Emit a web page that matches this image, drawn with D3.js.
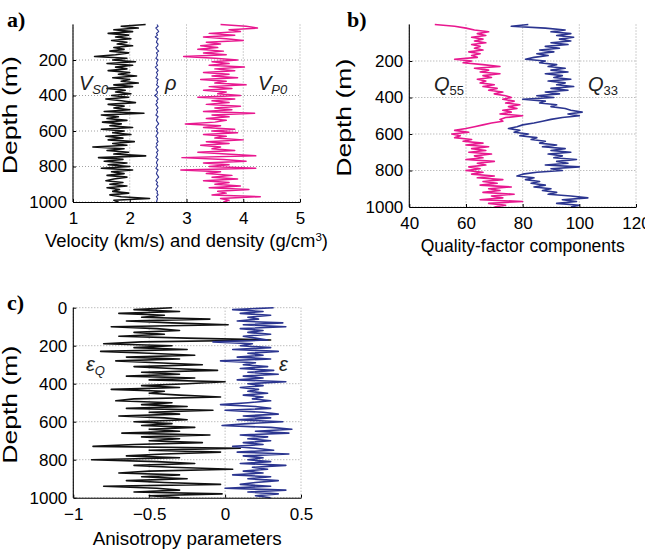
<!DOCTYPE html>
<html>
<head>
<meta charset="utf-8">
<script src="https://cdn.jsdelivr.net/npm/d3@7"></script>
<style>
  body { margin: 0; background: #fff; }
  text { font-family: "Liberation Sans", Arial, Helvetica, sans-serif; }
</style>
</head>
<body>
<svg id="chart" width="645" height="552"></svg>
<script>
// sampling depth (m), one value every 10 m
const depths = d3.range(0, 1001, 10);

// panel a) velocities (km/s) and density (g/cm3)
const vs0 = [2.28,1.85,2.15,1.72,2.05,1.62,1.98,1.75,2.02,1.68,1.95,1.78,2.05,1.72,1.9,1.65,1.98,1.75,1.38,1.95,
  1.7,2.1,1.6,2.05,1.75,1.95,1.62,2.0,1.8,2.12,1.7,2.0,1.85,2.15,1.72,2.05,1.6,1.92,1.75,2.02,
  1.68,1.98,1.58,1.85,2.1,1.62,1.9,1.72,2.0,1.55,2.25,1.5,1.8,1.6,1.95,1.52,1.85,1.65,2.05,1.5,
  1.9,1.7,2.02,1.58,1.88,1.62,2.08,1.7,1.95,1.35,1.9,1.6,1.98,1.72,2.28,1.45,1.88,1.55,1.95,1.62,
  2.0,1.5,2.05,1.68,1.9,1.6,1.95,1.72,1.58,1.88,1.65,1.95,1.6,1.82,1.7,1.98,1.65,1.85,2.35,1.72,1.8];
const rho = [2.48,2.5,2.46,2.49,2.51,2.47,2.49,2.45,2.5,2.48,2.47,2.5,2.49,2.46,2.48,2.51,2.47,2.49,2.48,2.46,
  2.5,2.48,2.47,2.49,2.45,2.48,2.5,2.47,2.49,2.48,2.46,2.5,2.48,2.49,2.47,2.51,2.48,2.46,2.49,2.48,
  2.44,2.48,2.5,2.47,2.49,2.46,2.48,2.5,2.47,2.49,2.48,2.46,2.5,2.48,2.47,2.49,2.51,2.48,2.46,2.49,
  2.47,2.5,2.48,2.46,2.49,2.48,2.5,2.47,2.49,2.46,2.48,2.5,2.47,2.49,2.48,2.46,2.5,2.48,2.47,2.49,
  2.48,2.46,2.5,2.48,2.47,2.49,2.51,2.48,2.46,2.49,2.47,2.5,2.48,2.46,2.49,2.48,2.5,2.47,2.49,2.48,2.47];
const vp0 = [3.6,4.05,4.25,3.75,3.95,3.4,3.85,3.3,3.7,4.0,3.35,3.6,3.25,3.55,3.2,3.65,3.3,3.7,2.95,3.5,
  3.9,3.45,3.75,3.4,4.02,3.5,3.85,3.3,3.75,3.45,3.9,3.25,3.7,3.5,4.05,3.4,3.8,3.3,3.7,3.55,
  3.95,3.2,3.85,3.45,3.75,3.35,3.95,3.5,3.8,3.3,4.2,3.45,3.75,3.35,3.7,3.5,2.98,3.6,3.3,3.85,
  3.45,3.9,3.3,3.7,3.5,4.0,3.35,3.75,3.25,3.6,3.45,3.85,3.2,3.7,4.22,2.92,3.65,4.05,3.3,3.75,
  3.4,4.22,2.9,3.6,3.35,3.8,3.45,3.9,3.3,3.75,3.5,3.95,3.4,4.1,3.55,3.7,3.45,4.3,3.6,3.75,3.65];

// panel b) quality-factor components
const q55 = [49,56,60,63,68,64,67,62,66,63,67,62,65,63,66,61,65,62,64,56,
  62,59,66,72,63,68,65,72,66,69,64,67,65,70,66,71,68,73,70,74,
  76,73,77,74,79,75,78,73,76,72,80,74,72,73,69,66,63,60,56,61,
  55,58,56,62,59,66,60,68,62,67,61,69,63,66,60,70,64,67,61,65,
  60,66,62,70,64,73,66,71,65,76,68,72,66,77,69,73,65,80,68,74,70];
const q33 = [82,76,88,95,90,97,92,98,93,97,90,96,88,93,86,91,85,89,84,81,
  88,86,92,89,95,90,96,88,94,91,97,89,95,92,98,90,96,88,93,85,
  91,80,88,86,92,90,95,97,101,96,100,94,90,87,84,80,78,75,79,77,
  82,79,85,83,88,86,92,87,95,90,97,89,94,91,99,92,96,88,100,90,
  94,85,80,78,84,81,86,83,88,84,90,87,92,89,97,103,94,99,92,100,97];

// panel c) anisotropy parameters
const epsQ = [-0.35,-0.6,-0.3,-0.7,-0.4,-0.55,-0.1,-0.65,-0.35,0.02,-0.75,-0.45,-0.3,-0.6,-0.4,-0.7,-0.25,0.3,-0.55,-0.8,
  -0.35,-0.6,-0.25,-0.82,-0.5,-0.2,-0.65,-0.3,-0.72,-0.45,-0.15,-0.6,-0.35,-0.05,-0.55,-0.3,-0.65,-0.2,-0.5,0.0,
  -0.25,-0.55,-0.3,-0.75,-0.4,-0.5,-0.3,-0.03,-0.6,-0.72,-0.35,-0.55,-0.25,-0.65,-0.08,-0.5,-0.3,-0.7,-0.4,-0.25,
  -0.6,-0.35,-0.55,-0.2,-0.5,-0.3,-0.68,-0.1,-0.55,-0.3,-0.5,-0.15,-0.6,-0.87,0.1,-0.5,-0.03,-0.4,-0.65,-0.3,
  -0.88,-0.45,-0.2,-0.6,-0.35,0.05,-0.5,-0.7,-0.3,-0.55,-0.25,-0.65,-0.4,-0.03,-0.8,-0.45,-0.3,-0.6,-0.02,-0.5,-0.3];
const eps = [0.32,0.05,0.25,0.1,0.3,0.15,0.22,0.08,0.38,0.12,0.4,0.1,0.25,0.15,0.3,0.12,0.2,0.28,-0.08,0.18,
  0.1,0.3,0.05,0.35,0.15,0.25,0.08,0.3,-0.03,0.2,0.12,0.28,0.1,0.32,0.15,0.35,0.12,0.25,0.08,0.4,
  0.15,0.25,0.1,0.22,0.15,0.28,0.12,0.25,0.18,0.3,0.15,-0.03,0.2,0.3,0.0,0.25,0.35,0.12,0.3,0.08,
  0.38,0.15,-0.02,0.3,0.44,0.2,0.42,0.1,0.28,0.15,0.3,0.12,0.25,0.05,0.2,0.32,0.08,0.42,0.12,0.25,
  0.15,0.3,0.1,0.4,0.18,0.28,0.12,0.25,0.05,0.3,0.15,0.35,0.2,0.1,0.3,0.0,0.4,0.15,0.35,0.2,0.3];

const depthTicksAB = [200, 400, 600, 800, 1000];
const depthTicksC = [0, 200, 400, 600, 800, 1000];

const pink = '#e8188f';
const navy = '#2b3590';

const svg = d3.select('#chart');

function panel(cfg) {
  const g = svg.append('g');
  const x = d3.scaleLinear().domain(cfg.xDomain).range([cfg.left, cfg.right]);
  const y = d3.scaleLinear().domain([0, 1000]).range([cfg.top, cfg.bottom]);

  // dotted grid
  g.append('g')
    .selectAll('line')
    .data(cfg.xTicks)
    .enter().append('line')
    .attr('x1', d => x(d)).attr('x2', d => x(d))
    .attr('y1', cfg.top).attr('y2', cfg.bottom)
    .attr('stroke', '#8a8a8a').attr('stroke-width', 0.8)
    .attr('stroke-dasharray', '1,2');
  g.append('g')
    .selectAll('line')
    .data(cfg.yTicks)
    .enter().append('line')
    .attr('x1', cfg.left).attr('x2', cfg.right)
    .attr('y1', d => y(d)).attr('y2', d => y(d))
    .attr('stroke', '#8a8a8a').attr('stroke-width', 0.8)
    .attr('stroke-dasharray', '1,2');

  // the logs
  cfg.series.forEach(s => {
    const line = d3.line()
      .x(d => x(d[1]))
      .y(d => y(d[0]));
    g.append('path')
      .datum(depths.map((dep, i) => [dep, s.values[i]]))
      .attr('fill', 'none')
      .attr('stroke', s.color)
      .attr('stroke-width', s.width)
      .attr('stroke-linejoin', 'round')
      .attr('d', line);
  });

  // axes
  const fmt = d3.format('');
  const xAxis = g.append('g')
    .attr('transform', `translate(0,${cfg.bottom})`)
    .call(d3.axisBottom(x).tickValues(cfg.xTicks).tickFormat(fmt)
      .tickSizeInner(-3).tickSizeOuter(0).tickPadding(10));
  const yAxis = g.append('g')
    .attr('transform', `translate(${cfg.left},0)`)
    .call(d3.axisLeft(y).tickValues(cfg.yTicks).tickFormat(fmt)
      .tickSizeInner(-3).tickSizeOuter(0).tickPadding(6));
  [xAxis, yAxis].forEach(a => {
    a.selectAll('text').style('font-size', '17px').attr('fill', '#000')
      .style('font-family', '"Liberation Sans", Arial, sans-serif');
    a.select('.domain').attr('stroke', '#000').attr('stroke-width', 1.1);
    a.selectAll('.tick line').attr('stroke', '#000');
  });
  yAxis.select('.domain').attr('d', `M0,${cfg.top}V${cfg.bottom}`);

  // titles
  g.append('text')
    .attr('transform', `translate(${cfg.left - cfg.ylabOff},${(cfg.top + cfg.bottom) / 2 + 2}) rotate(-90)`)
    .attr('text-anchor', 'middle')
    .attr('textLength', 118)
    .attr('lengthAdjust', 'spacingAndGlyphs')
    .style('font-size', '19.5px')
    .text('Depth (m)');
  const xt = g.append('text')
    .attr('x', (cfg.left + cfg.right) / 2)
    .attr('y', cfg.bottom + cfg.xlabOff)
    .attr('text-anchor', 'middle')
    .attr('textLength', cfg.xlabLen)
    .attr('lengthAdjust', 'spacingAndGlyphs')
    .style('font-size', '17.5px');
  cfg.xTitle(xt);

  g.append('text')
    .attr('x', cfg.labelX).attr('y', cfg.top + 2)
    .style('font-family', '"Liberation Serif", "Times New Roman", serif')
    .style('font-weight', 'bold')
    .style('font-size', '22px')
    .text(cfg.label);

  cfg.notes.forEach(n => {
    const t = g.append('text')
      .attr('x', n.x).attr('y', n.y)
      .style('font-size', '20px')
      .style('font-style', 'italic')
      .attr('fill', '#222');
    t.append('tspan').text(n.main);
    if (n.sub) {
      t.append('tspan').attr('dy', 4).style('font-size', '13px')
        .style('font-style', n.subItalic ? 'italic' : 'normal').text(n.sub);
    }
  });
}

panel({
  label: 'a)', labelX: 7,
  left: 73, right: 300, top: 24.5, bottom: 202,
  ylabOff: 56, xlabOff: 45, xlabLen: 283,
  xDomain: [1, 5], xTicks: [1, 2, 3, 4, 5], yTicks: depthTicksAB,
  series: [
    {values: vs0, color: '#111', width: 1.6},
    {values: rho, color: navy, width: 1.1},
    {values: vp0, color: pink, width: 1.5}
  ],
  xTitle: t => {
    t.append('tspan').text('Velocity (km/s) and density (g/cm');
    t.append('tspan').attr('dy', -6).style('font-size', '11px').text('3');
    t.append('tspan').attr('dy', 6).text(')');
  },
  notes: [
    {x: 79, y: 90, main: 'V', sub: 'S0', subItalic: true},
    {x: 165, y: 90, main: 'ρ'},
    {x: 258, y: 90, main: 'V', sub: 'P0', subItalic: true}
  ]
});

panel({
  label: 'b)', labelX: 347,
  left: 409.3, right: 636, top: 24.5, bottom: 207,
  ylabOff: 58, xlabOff: 45, xlabLen: 204,
  xDomain: [40, 120], xTicks: [40, 60, 80, 100, 120], yTicks: depthTicksAB,
  series: [
    {values: q55, color: pink, width: 1.6},
    {values: q33, color: navy, width: 1.6}
  ],
  xTitle: t => t.text('Quality-factor components'),
  notes: [
    {x: 434, y: 91, main: 'Q', sub: '55'},
    {x: 588, y: 91, main: 'Q', sub: '33'}
  ]
});

panel({
  label: 'c)', labelX: 7,
  left: 73.3, right: 301, top: 307.7, bottom: 497.7,
  ylabOff: 56, xlabOff: 47, xlabLen: 189,
  xDomain: [-1, 0.5], xTicks: [-1, -0.5, 0, 0.5], yTicks: depthTicksC,
  series: [
    {values: epsQ, color: '#111', width: 1.6},
    {values: eps, color: navy, width: 1.6}
  ],
  xTitle: t => t.text('Anisotropy parameters'),
  notes: [
    {x: 86, y: 371, main: 'ε', sub: 'Q', subItalic: true},
    {x: 279, y: 371, main: 'ε'}
  ]
});
</script>
</body>
</html>
